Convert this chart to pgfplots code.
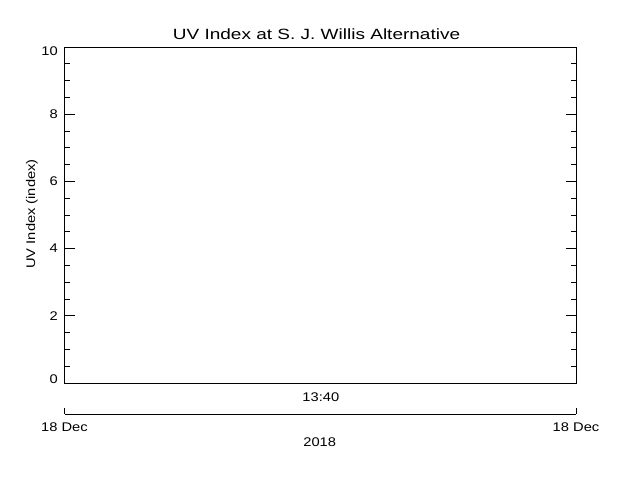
\documentclass[border=0pt]{standalone}
\usepackage{fontspec}
\setmainfont{Liberation Sans}[FakeStretch=1.17]
\newfontfamily\titlefont{Liberation Sans}[FakeStretch=1.28]
\usepackage{pgfplots}
\pgfplotsset{compat=1.18}
\begin{document}
\begin{tikzpicture}[x=1bp,y=1bp]
\path[use as bounding box] (0,0) rectangle (640,480);
\begin{axis}[
  at={(64.5bp,97bp)}, anchor=south west,
  scale only axis, width=511.5bp, height=336bp,
  xmin=0, xmax=1, ymin=0, ymax=10,
  xtick=\empty,
  ytick={0,2,4,6,8,10},
  minor y tick num=3,
  tick align=inside,
  major tick length=10.5bp, minor tick length=5bp,
  axis line style={line width=0.8bp},
  every tick/.style={line width=0.8bp, black},
  /pgf/number format/assume math mode=true,
  yticklabel={\ifnum\ticknum=0 \raisebox{4bp}[9bp][0pt]{\pgfmathprintnumber{\tick}}\else\ifnum\ticknum=5 \raisebox{-4bp}[9bp][0pt]{\pgfmathprintnumber{\tick}}\else\pgfmathprintnumber{\tick}\fi\fi},
  yticklabel style={font=\fontsize{12.6}{14}\selectfont, anchor=east, inner sep=0pt, xshift=-6.5bp},
]
\end{axis}
\begin{axis}[
  at={(64.5bp,66bp)}, anchor=south west,
  scale only axis, width=511.5bp, height=20bp,
  xmin=0, xmax=1, ymin=0, ymax=1,
  axis x line=bottom, axis y line=none,
  x axis line style={-, line width=0.8bp},
  xtick={0,1}, xticklabels={18 Dec,18 Dec},
  tick align=inside, major tick length=6bp,
  every tick/.style={line width=0.8bp, black},
  xticklabel style={font=\fontsize{12.6}{14}\selectfont, anchor=north, inner sep=0pt, yshift=-9bp},
]
\end{axis}
\node[font=\titlefont\fontsize{14.9}{16}\selectfont] at (316.5,445.3) {UV Index at S. J. Willis Alternative};
\node[font=\fontsize{12.6}{14}\selectfont, rotate=90] at (32,266) {UV Index (index)};
\node[font=\fontsize{12.6}{14}\selectfont] at (320.8,83.3) {13:40};
\node[font=\fontsize{12.6}{14}\selectfont] at (319.7,37.7) {2018};
\end{tikzpicture}
\end{document}
